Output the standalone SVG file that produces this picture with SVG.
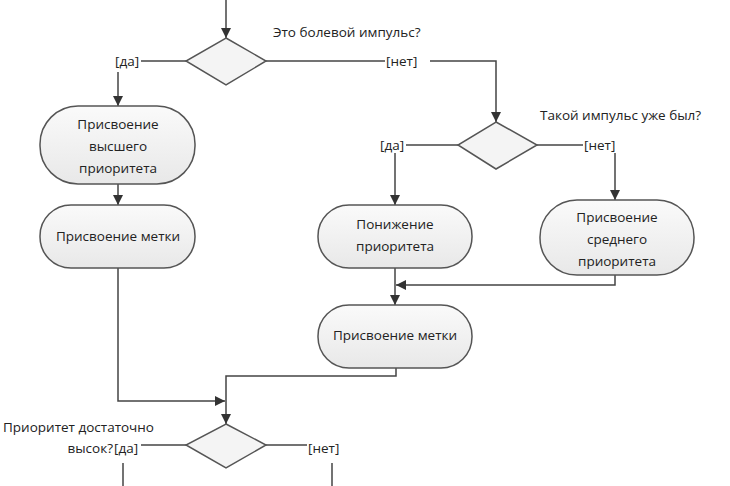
<svg xmlns="http://www.w3.org/2000/svg" width="730" height="486" viewBox="0 0 730 486">
<style>
text{font-family:"Open Sans","Noto Sans","DejaVu Sans",sans-serif;font-size:13.5px;fill:#222}
.c{text-anchor:middle}
.n{fill:url(#g);stroke:#555;stroke-width:1.5}
.d{fill:#f4f4f4;stroke:#555;stroke-width:1.5}
.l{fill:none;stroke:#444;stroke-width:1.5}
</style>
<defs>
<linearGradient id="g" x1="0" y1="0" x2="0" y2="1"><stop offset="0" stop-color="#fafafa"/><stop offset="1" stop-color="#e8e8e8"/></linearGradient>
<marker id="a" viewBox="0 0 10 10" refX="10" refY="5" markerWidth="10" markerHeight="10" markerUnits="userSpaceOnUse" orient="auto"><path d="M0,0 L10,5 L0,10 z" fill="#333"/></marker>
</defs>
<rect width="730" height="486" fill="#fff"/>
<g id="connectors">
<path class="l" d="M226,0 V38" marker-end="url(#a)"/>
<path class="l" d="M186,61 H141"/>
<path class="l" d="M118,72 V106" marker-end="url(#a)"/>
<path class="l" d="M118,184 V205" marker-end="url(#a)"/>
<path class="l" d="M266,61 H385"/>
<path class="l" d="M430,61 H496 V122" marker-end="url(#a)"/>
<path class="l" d="M458,145 H406"/>
<path class="l" d="M395,153 V205" marker-end="url(#a)"/>
<path class="l" d="M537,145 H583"/>
<path class="l" d="M615,153 V200" marker-end="url(#a)"/>
<path class="l" d="M395,268 V305" marker-end="url(#a)"/>
<path class="l" d="M615,275 V285 H396" marker-end="url(#a)"/>
<path class="l" d="M118,268 V401 H225" marker-end="url(#a)"/>
<path class="l" d="M396,368 V376 H226 V424" marker-end="url(#a)"/>
<path class="l" d="M186,445 H141"/>
<path class="l" d="M123,463 V486"/>
<path class="l" d="M266,445 H307"/>
<path class="l" d="M332,463 V486"/>
</g>
<g id="d1"><polygon class="d" points="226,38 266,61 226,85 186,61"/><text x="273" y="37">Это болевой импульс?</text><text x="115" y="66">[да]</text><text x="386" y="66">[нет]</text></g>
<g id="n1"><rect class="n" x="40" y="106" width="155" height="78" rx="38"/><text class="c" x="118" y="129">Присвоение</text><text class="c" x="118" y="151">высшего</text><text class="c" x="118" y="173">приоритета</text></g>
<g id="n2"><rect class="n" x="40" y="205" width="155" height="63" rx="31"/><text class="c" x="118" y="241">Присвоение метки</text></g>
<g id="d2"><polygon class="d" points="496,122 537,145 496,169 458,145"/><text x="540" y="120">Такой импульс уже был?</text><text x="380" y="150">[да]</text><text x="584" y="150">[нет]</text></g>
<g id="n3"><rect class="n" x="318" y="205" width="154" height="63" rx="31"/><text class="c" x="395" y="229">Понижение</text><text class="c" x="395" y="251">приоритета</text></g>
<g id="n4"><rect class="n" x="540" y="200" width="154" height="75" rx="37"/><text class="c" x="617" y="222">Присвоение</text><text class="c" x="617" y="244">среднего</text><text class="c" x="617" y="266">приоритета</text></g>
<g id="n5"><rect class="n" x="318" y="305" width="154" height="63" rx="31"/><text class="c" x="395" y="340">Присвоение метки</text></g>
<g id="d3"><polygon class="d" points="226,424 266,445 226,468 186,445"/><text x="3" y="432">Приоритет достаточно</text><text x="113" y="453" text-anchor="end">высок?</text><text x="114" y="453">[да]</text><text x="308" y="453">[нет]</text></g>
</svg>
